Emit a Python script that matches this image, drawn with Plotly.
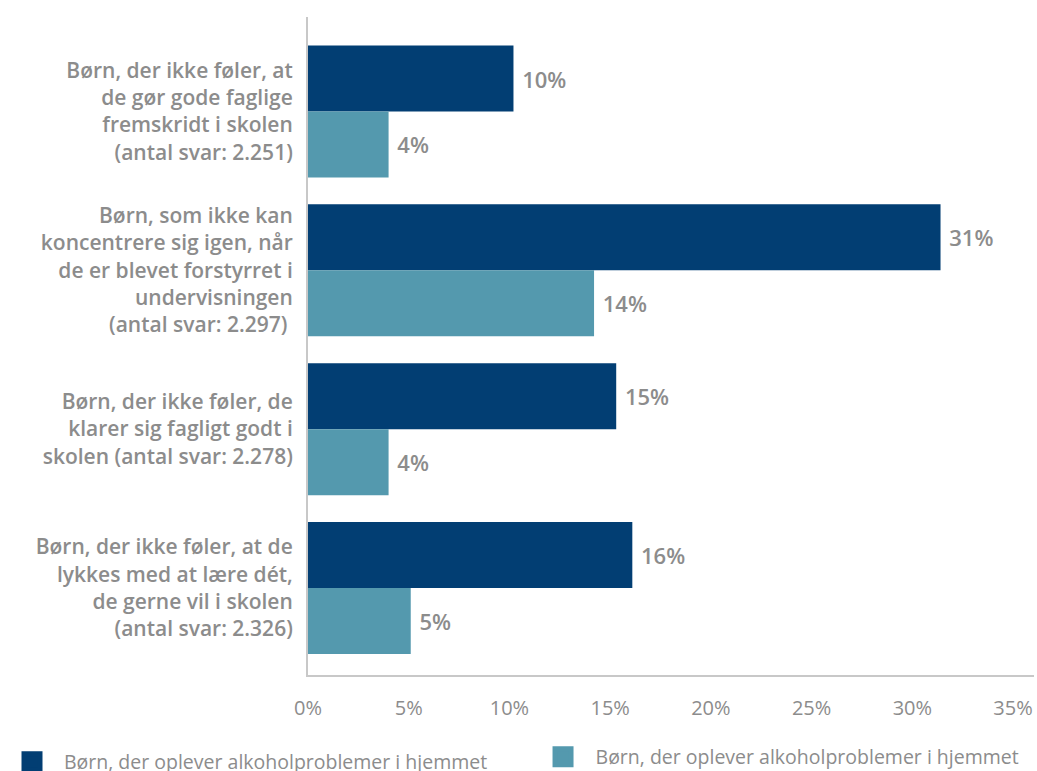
import plotly.graph_objects as go

categories = [
    "Børn, der ikke føler, at<br>de gør gode faglige<br>fremskridt i skolen<br>(antal svar: 2.251)",
    "Børn, som ikke kan<br>koncentrere sig igen, når<br>de er blevet forstyrret i<br>undervisningen<br>(antal svar: 2.297) ",
    "Børn, der ikke føler, de<br>klarer sig fagligt godt i<br>skolen (antal svar: 2.278)",
    "Børn, der ikke føler, at de<br>lykkes med at lære dét,<br>de gerne vil i skolen<br>(antal svar: 2.326)",
]
series_names = [
    "Børn, der oplever alkoholproblemer i hjemmet",
    "Børn, der oplever alkoholproblemer i hjemmet",
]
dark_values = [10.2, 31.4, 15.3, 16.1]
light_values = [4.0, 14.2, 4.0, 5.1]
dark_labels = ["10%", "31%", "15%", "16%"]
light_labels = ["4%", "14%", "4%", "5%"]
tick_vals = [0, 5, 10, 15, 20, 25, 30, 35]
tick_text = ["0%", "5%", "10%", "15%", "20%", "25%", "30%", "35%"]

GREY = "#8c8c8c"
FONT = "Open Sans"
DARK = "#023e73"
LIGHT = "#5499ae"

fig = go.Figure()
for name, vals, labels, color, leg in [
    (series_names[0], dark_values, dark_labels, DARK, "legend"),
    (series_names[1], light_values, light_labels, LIGHT, "legend2"),
]:
    fig.add_trace(go.Bar(
        y=categories, x=vals, orientation="h", name=name,
        marker=dict(color=color, line=dict(width=0)),
        text=["\u00a0" + t for t in labels],
        textposition="outside", cliponaxis=False,
        textfont=dict(family=FONT, size=22, color=GREY, weight=600),
        hoverinfo="skip", showlegend=False,
    ))
    # legend-only entry with a larger square key
    fig.add_trace(go.Scatter(
        x=[None], y=[None], mode="markers", name=name, legend=leg,
        marker=dict(symbol="square", size=16, color=color,
                    line=dict(color=color, width=5)),
        hoverinfo="skip", showlegend=True,
    ))

legend_font = dict(family=FONT, size=19.5, color=GREY, weight=400)
fig.update_layout(
    width=1037, height=771,
    margin=dict(l=308, r=3, t=17, b=96, autoexpand=False),
    paper_bgcolor="white", plot_bgcolor="white",
    barmode="group", bargap=0.169, bargroupgap=0,
    font=dict(family=FONT, color=GREY, weight=600),
    showlegend=True,
    legend=dict(
        xref="container", x=0.0, yref="container", y=0.0117,
        yanchor="middle", xanchor="left", font=legend_font,
        itemwidth=54, itemsizing="trace",
    ),
    legend2=dict(
        xref="container", x=0.5116, yref="container", y=0.0182,
        yanchor="middle", xanchor="left", font=legend_font,
        itemwidth=55, itemsizing="trace",
    ),
)
fig.update_xaxes(
    range=[0, 36.04], tickvals=tick_vals, ticktext=tick_text,
    showgrid=False, zeroline=False, automargin=False, tickangle=0,
    showline=True, linecolor="#c8c8c8", linewidth=2,
    tickfont=dict(family=FONT, size=20, color=GREY, weight=400),
    ticklabelstandoff=14, fixedrange=True,
)
fig.update_yaxes(
    categoryorder="array", categoryarray=categories,
    range=[3.548, -0.595], automargin=False,
    showgrid=False, zeroline=False,
    showline=True, linecolor="#c8c8c8", linewidth=2,
    tickfont=dict(family=FONT, size=21, color=GREY, weight=600),
    ticklabelstandoff=9, fixedrange=True,
)

fig.write_html(
    "out.html",
    config={"displayModeBar": False},
    post_script="document.body.style.margin='0';document.body.style.overflow='hidden';",
)
